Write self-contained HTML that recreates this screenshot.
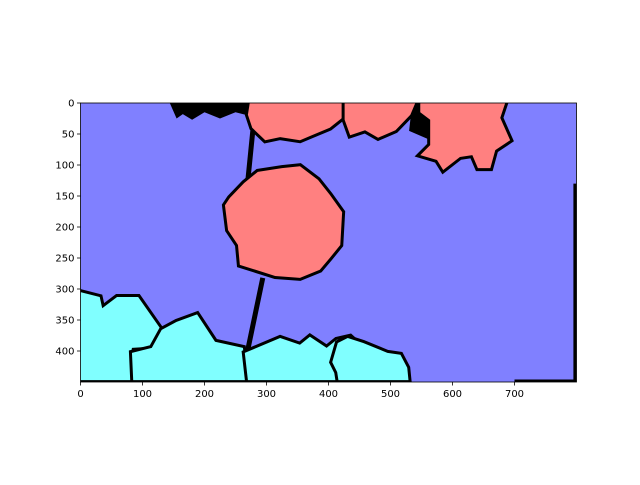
<!DOCTYPE html>
<html><head><meta charset="utf-8"><style>
body{margin:0;background:#fff}
svg text{font-family:"DejaVu Sans","Liberation Sans",sans-serif;font-size:10px;fill:#000}
</style></head><body>
<svg id="chart" width="640" height="480" viewBox="0 0 640 480" xmlns="http://www.w3.org/2000/svg">
<g id="plot"></g>
<g id="axes"></g>
</svg>
<script>
const xTicks=[0,100,200,300,400,500,600,700];
const yTicks=[0,50,100,150,200,250,300,350,400];
const imgW=800, imgH=450;
const redRegions=[
 [[264,129],[286,111],[325,105],[354,102],[383,124],[402,148],[422,176],[419,229],[402,250],[386,269],[354,282],[314,279],[257,261],[254,229],[238,205],[233,165],[241,153]],
 [[273,0],[426,0],[422,24],[402,40],[373,52],[354,60],[322,55],[298,60],[277,40],[270,19]],
 [[426,0],[540,0],[532,19],[508,44],[480,56],[459,44],[435,52],[426,27]],
 [[548,0],[685,0],[677,24],[693,60],[669,76],[661,105],[641,105],[632,84],[612,87],[585,108],[575,92],[548,84],[564,68],[564,27],[548,15]]
];
const cyanRegions=[
 [[0,305],[31,313],[35,331],[59,313],[93,313],[128,363],[115,393],[83,395],[80,411],[84,447],[0,447]],
 [[131,366],[155,353],[188,341],[217,385],[262,395],[268,447],[85,447],[83,403],[115,395]],
 [[265,403],[322,379],[354,390],[370,377],[397,395],[413,382],[435,377],[445,386],[445,402],[453,418],[453,447],[270,447]],
 [[406,418],[415,387],[431,379],[456,387],[495,403],[516,406],[527,427],[529,447],[416,447],[414,434]]
];
const blackRegions=[
 [[144,0],[273,0],[270,20],[250,15],[225,25],[200,15],[180,27],[165,18],[155,25]],
 [[535,0],[560,0],[565,60],[530,45]],
 [[795,130],[800,130],[800,450],[795,450]],
 [[0,446],[300,446],[300,450],[0,450]],
 [[700,446],[800,446],[800,450],[700,450]]
];
const edgeLines=[[[278,44],[270,124]],[[294,282],[269,402]]];

const X0=80.5,Y0=103,S=0.62;
const sx=v=>X0+v*S, sy=v=>Y0+v*S;
const NS="http://www.w3.org/2000/svg";
const plot=document.getElementById('plot'), axes=document.getElementById('axes');
function mk(tag,attrs,parent){const e=document.createElementNS(NS,tag);for(const k in attrs)e.setAttribute(k,attrs[k]);parent.appendChild(e);return e;}
const bg=mk('rect',{x:sx(0),y:sy(0),width:imgW*S,height:imgH*S,fill:'#8080ff'},plot);


const pts=p=>p.map(q=>sx(q[0])+','+sy(q[1])).join(' ');
blackRegions.forEach(p=>{const e=mk('polygon',{points:pts(p),fill:'#000'},plot);

});
edgeLines.forEach(l=>{const e=mk('line',{x1:sx(l[0][0]),y1:sy(l[0][1]),x2:sx(l[1][0]),y2:sy(l[1][1]),stroke:'#000','stroke-width':5},plot);

});
redRegions.forEach(p=>{const e=mk('polygon',{points:pts(p),fill:'#ff8080',stroke:'#000','stroke-width':6,'paint-order':'stroke'},plot);

});
cyanRegions.forEach(p=>{const e=mk('polygon',{points:pts(p),fill:'#80ffff',stroke:'#000','stroke-width':6,'paint-order':'stroke'},plot);

});
const cover=mk('path',{d:`M0 0H640V480H0Z M${sx(0)} ${sy(0)}V${sy(imgH)}H${sx(imgW)}V${sy(0)}Z`,fill:'#fff','fill-rule':'evenodd'},plot);


const frame=mk('rect',{x:sx(0),y:sy(0),width:imgW*S,height:imgH*S,fill:'none',stroke:'#000','stroke-width':0.8},axes);


xTicks.forEach(v=>{const t=mk('line',{x1:sx(v),x2:sx(v),y1:sy(imgH),y2:sy(imgH)+3.5,stroke:'#000','stroke-width':0.8},axes);


const l=mk('text',{x:sx(v),y:sy(imgH)+15,'text-anchor':'middle'},axes);l.textContent=v;

});
yTicks.forEach(v=>{const t=mk('line',{x1:sx(0)-3.5,x2:sx(0),y1:sy(v),y2:sy(v),stroke:'#000','stroke-width':0.8},axes);


const l=mk('text',{x:sx(0)-6,y:sy(v)+3.5,'text-anchor':'end'},axes);l.textContent=v;

});
</script>
</body></html>
